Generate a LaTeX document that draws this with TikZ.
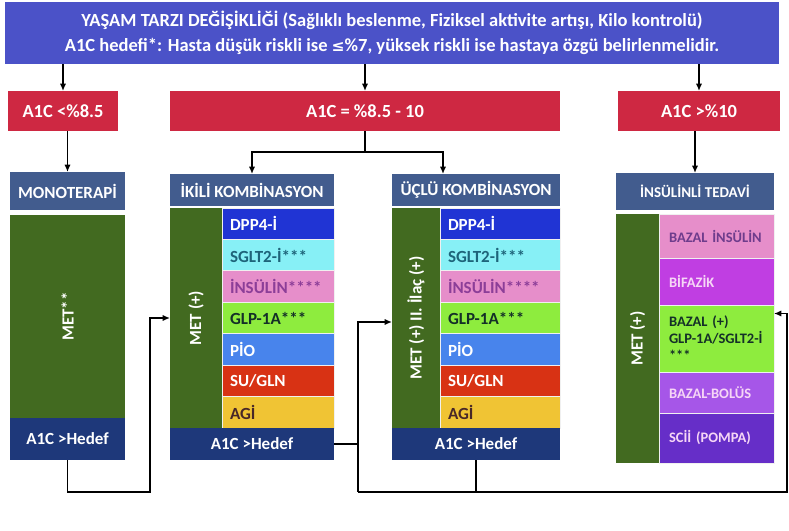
\documentclass[tikz,border=0pt]{standalone}
\usepackage{fontspec}
\setmainfont{Carlito}
\usepackage{xcolor}
\usetikzlibrary{arrows.meta,positioning}

\definecolor{bannerblue}{RGB}{75,82,200}
\definecolor{levelred}{RGB}{206,40,66}
\definecolor{headblue}{RGB}{66,92,142}
\definecolor{hedefblue}{RGB}{30,56,122}
\definecolor{metgreen}{RGB}{66,106,32}
\definecolor{dppblue}{RGB}{32,52,212}
\definecolor{sgltcyan}{RGB}{135,240,246}
\definecolor{sglttext}{RGB}{30,100,122}
\definecolor{inspink}{RGB}{230,142,202}
\definecolor{instext}{RGB}{140,62,152}
\definecolor{glpgreen}{RGB}{142,236,62}
\definecolor{glptext}{RGB}{20,48,40}
\definecolor{pioblue}{RGB}{72,132,236}
\definecolor{sured}{RGB}{216,50,20}
\definecolor{agiyellow}{RGB}{240,196,52}
\definecolor{agitext}{RGB}{72,40,40}
\definecolor{bazaltext}{RGB}{110,60,140}
\definecolor{bifazik}{RGB}{192,62,226}
\definecolor{bolus}{RGB}{166,86,232}
\definecolor{pompa}{RGB}{102,46,200}
\definecolor{paletext}{RGB}{246,214,246}

\begin{document}
\begin{tikzpicture}[
    x=1pt, y=-1pt,
    node distance=0pt,
    box/.style={rectangle,outer sep=0pt,inner sep=2pt,align=center,text=white,font=\bfseries\fontsize{17}{20}\selectfont},
    banner/.style={box,fill=bannerblue,font=\bfseries\fontsize{18.5}{25}\selectfont},
    level/.style={box,fill=levelred,minimum height=40,font=\bfseries\fontsize{18.5}{22}\selectfont},
    head/.style={box,fill=headblue},
    hedef/.style={box,fill=hedefblue},
    metcol/.style={box,fill=metgreen},
    drug/.style={box,align=left,draw=white!88!gray,line width=0.8pt,inner xsep=8pt},
    insdrug/.style={drug,text width=95,inner xsep=10pt,font=\bfseries\fontsize{14.5}{17}\selectfont},
    arrow/.style={-{Latex[length=2.6mm,width=2.2mm]},line width=1.3pt},
    link/.style={line width=1.3pt}
]
\useasboundingbox (0,0) rectangle (789,530);

% lifestyle banner and A1C levels
\node[banner,minimum width=774,minimum height=62,anchor=north west] (banner) at (5,2)
    {YAŞAM TARZI DEĞİŞİKLİĞİ (Sağlıklı beslenme, Fiziksel aktivite artışı, Kilo kontrolü)\\
     A1C hedefi*: Hasta düşük riskli ise {\fontspec{DejaVu Sans}\fontsize{15.5}{20}\selectfont ≤}\%7, yüksek riskli ise hastaya özgü belirlenmelidir.};
\node[level,minimum width=110,anchor=north west] (low) at (8,91) {A1C <\%8.5};
\node[level,minimum width=390,anchor=north west] (mid) at (170,91) {A1C = \%8.5 - 10};
\node[level,minimum width=162,anchor=north west] (high) at (618,91) {A1C >\%10};

% monoterapi
\node[head,minimum width=115,minimum height=38,anchor=north west] (monohead) at (10,172) {MONOTERAPİ};
\node[metcol,minimum width=115,minimum height=203,below=5pt of monohead] (monomet) {\rotatebox{90}{MET**}};
\node[hedef,minimum width=115,minimum height=42,below=of monomet] (monohedef) {A1C >Hedef};

% ikili kombinasyon
\node[head,minimum width=164,minimum height=32,anchor=north west] (ikihead) at (170,174) {İKİLİ KOMBİNASYON};
\node[metcol,minimum width=52,minimum height=220,anchor=north west] (ikimet) at (170,208) {\rotatebox{90}{MET (+)}};
\node[drug,text width=96,minimum height=31.43,fill=dppblue,anchor=north west] (ikidpp) at (ikimet.north east) {DPP4-İ};
\node[drug,text width=96,minimum height=31.43,fill=sgltcyan,text=sglttext,below=of ikidpp] (ikisglt) {SGLT2-İ***};
\node[drug,text width=96,minimum height=31.43,fill=inspink,text=instext,below=of ikisglt] (ikiins) {İNSÜLİN****};
\node[drug,text width=96,minimum height=31.43,fill=glpgreen,text=glptext,below=of ikiins] (ikiglp) {GLP-1A***};
\node[drug,text width=96,minimum height=31.43,fill=pioblue,below=of ikiglp] (ikipio) {PİO};
\node[drug,text width=96,minimum height=31.43,fill=sured,below=of ikipio] (ikisu) {SU/GLN};
\node[drug,text width=96,minimum height=31.43,fill=agiyellow,text=agitext,below=of ikisu] (ikiagi) {AGİ};
\node[hedef,minimum width=164,minimum height=32,anchor=north west] (ikihedef) at (ikimet.south west) {A1C >Hedef};

% uclu kombinasyon
\node[head,minimum width=168,minimum height=32,anchor=north west] (uchead) at (392,174) {ÜÇLÜ KOMBİNASYON};
\node[metcol,minimum width=48,minimum height=220,anchor=north west] (ucmet) at (392,208) {\rotatebox{90}{MET (+) II. İlaç (+)}};
\node[drug,text width=104,minimum height=31.43,fill=dppblue,anchor=north west] (ucdpp) at (ucmet.north east) {DPP4-İ};
\node[drug,text width=104,minimum height=31.43,fill=sgltcyan,text=sglttext,below=of ucdpp] (ucsglt) {SGLT2-İ***};
\node[drug,text width=104,minimum height=31.43,fill=inspink,text=instext,below=of ucsglt] (ucins) {İNSÜLİN****};
\node[drug,text width=104,minimum height=31.43,fill=glpgreen,text=glptext,below=of ucins] (ucglp) {GLP-1A***};
\node[drug,text width=104,minimum height=31.43,fill=pioblue,below=of ucglp] (ucpio) {PİO};
\node[drug,text width=104,minimum height=31.43,fill=sured,below=of ucpio] (ucsu) {SU/GLN};
\node[drug,text width=104,minimum height=31.43,fill=agiyellow,text=agitext,below=of ucsu] (ucagi) {AGİ};
\node[hedef,minimum width=168,minimum height=32,anchor=north west] (uchedef) at (ucmet.south west) {A1C >Hedef};

% insulinli tedavi
\node[head,minimum width=158,minimum height=37,anchor=north west,font=\bfseries\fontsize{15}{18}\selectfont] (inshead) at (616,173) {İNSÜLİNLİ TEDAVİ};
\node[metcol,minimum width=43,minimum height=249,anchor=north west] (insmet) at (616,214) {\rotatebox{90}{MET (+)}};
\node[insdrug,minimum height=44,fill=inspink,text=bazaltext,anchor=north west] (insbazal) at (insmet.north east) {BAZAL İNSÜLİN};
\node[insdrug,minimum height=47,fill=bifazik,text=paletext,below=of insbazal] (insbif) {BİFAZİK};
\node[insdrug,minimum height=67,fill=glpgreen,text=glptext,below=of insbif] (insglp) {BAZAL (+)\\GLP-1A/SGLT2-İ\\{}***};
\node[insdrug,minimum height=41,fill=bolus,text=paletext,below=of insglp] (insbolus) {BAZAL-BOLÜS};
\node[insdrug,minimum height=50,fill=pompa,text=paletext,below=of insbolus] (inspompa) {SCİİ (POMPA)};

% arrows from the banner
\draw[arrow] (banner.south -| low.north) -- (low.north);
\draw[arrow] (banner.south -| mid.north) -- (mid.north);
\draw[arrow] (banner.south -| high.north) -- (high.north);

% arrows to the treatments
\draw[arrow] (monohead.north |- low.south) -- (monohead.north);
\coordinate (fork) at (365,152);
\draw[link] (mid.south) -- (fork);
\draw[arrow] (fork) -| (ikihead.north);
\draw[arrow] (fork) -| ([xshift=-33pt]uchead.north);
\draw[arrow] (inshead.north |- high.south) -- (inshead.north);

% A1C above target
\draw[arrow] (monohedef.south) |- (150,492) |- (ikimet.west);
\coordinate (j1) at (358,444);
\coordinate (j2) at (358,492);
\draw[link] (ikihedef.east) -- (j1);
\draw[arrow] (j1) |- ([yshift=-4pt]ucmet.west);
\draw[link] (j1) -- (j2);
\draw[link] (uchedef.south) -- (uchedef.south |- j2);
\draw[arrow] (j2) -- (787,492) |- ([yshift=25pt]insglp.east);
\end{tikzpicture}
\end{document}
